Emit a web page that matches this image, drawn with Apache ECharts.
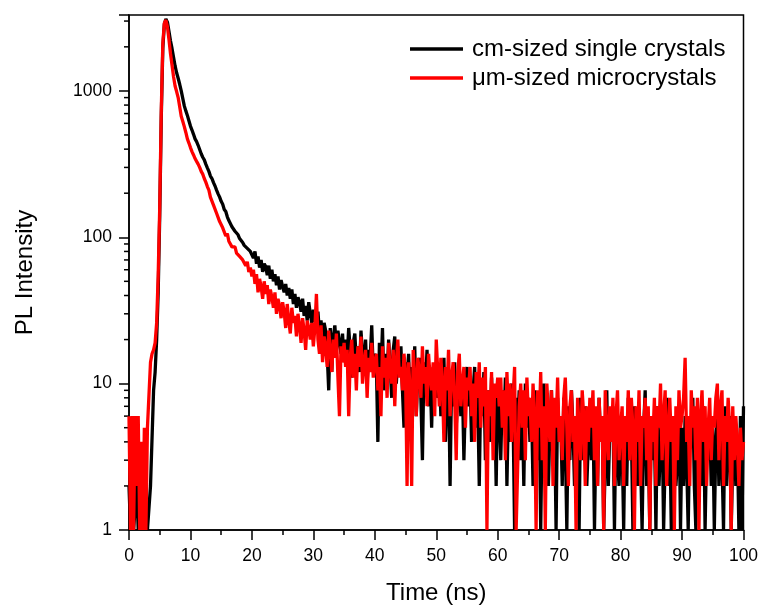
<!DOCTYPE html>
<html><head><meta charset="utf-8">
<script src="https://cdn.jsdelivr.net/npm/echarts@6/dist/echarts.min.js"></script>
<style>html,body{margin:0;padding:0;background:#fff}#c{width:765px;height:608px}</style>
</head><body><div id="c"></div>
<script>
const seriesNames = ['cm-sized single crystals', 'μm-sized microcrystals'];
const timeStep = 0.25; // ns between samples, first sample at 0 ns
const cmCrystals = [
  2,1,2,1,1,2,1,1,2,1,1,2,1,
  1,2,2,9,12,20,42,140,650,1950,2850,3100,
  2950,2550,2200,1950,1700,1480,1330,1220,1110,1000,890,790,730,680,625,575,540,505,470,450,
  425,398,372,352,338,316,298,282,262,252,236,224,210,198,188,176,168,155,150,138,
  130,126,118,117,110,112,104,98,96,92,88,90,84,86,80,78,
  72,80,66,74,62,70,58,66,63,55,64,52,60,50,56,47,54,44,51,46,
  42,48,40,45,38,44,35,41,33,39,36,31,38,29,34,27,36,30,26,32,
  28,24,31,22,27,20,26,23,16,9,24,12,21,25,17,23,19,16,22,14,
  20,15,24,17,11,19,22,14,18,12,23,16,13,20,10,17,15,25,12,16,
  14,4,19,12,24,9,16,11,20,13,8,17,21,10,15,12,18,9,5,14,
  11,16,7,13,9,18,6,12,15,8,3,14,10,17,7,12,5,13,9,11,
  8,13,6,10,15,4,9,12,2,11,7,14,5,9,12,6,10,3,8,13,
  7,11,4,9,13,5,8,2,10,6,12,3,7,9,4,11,5,8,2,10,
  6,3,9,5,11,2,7,4,10,6,1,8,5,9,3,7,2,10,5,8,
  4,7,2,9,5,3,8,1,6,10,4,7,2,5,9,3,6,1,8,4,
  6,2,8,4,1,7,3,9,5,2,6,4,1,8,3,5,7,2,4,6,
  3,7,1,5,2,8,4,6,1,3,9,2,5,4,7,1,6,3,2,5,
  4,1,6,2,8,3,5,1,7,4,2,6,3,1,5,9,2,4,1,6,
  3,5,1,7,2,4,6,1,3,8,2,5,1,4,6,2,3,7,1,5,
  2,6,3,1,5,4,8,2,1,6,3,5,2,7,1,4,3,6,2,5,
  1,4,6,2,5,3,1,7,2,4,6,1,3,5,2,4,1,6,1,7
];
const umCrystals = [
  6,1,6,1,6,2,6,1,4,1,5,1,5,
  5,14,16,17,19,26,55,160,720,2100,2900,3050,
  2750,2250,1800,1500,1250,1080,990,900,780,670,620,570,520,470,440,410,385,365,345,330,
  316,300,282,270,252,238,222,210,188,184,166,162,146,145,128,130,116,117,102,106,
  94,97,86,88,86,78,80,74,76,70,72,64,68,58,62,54,
  60,48,56,42,52,46,38,50,41,47,35,44,39,33,42,30,38,34,28,36,
  31,24,35,27,22,33,26,29,21,30,25,19,28,23,17,27,24,20,26,18,
  24,41,20,16,25,14,21,18,13,23,17,12,20,15,22,11,6,18,14,19,
  13,17,6,15,20,11,16,9,18,13,21,10,14,17,8,15,12,19,11,14,
  16,9,13,6,18,11,15,8,19,12,10,17,7,14,20,11,13,9,16,12,
  2,14,9,2,17,11,6,15,12,8,18,10,13,7,16,11,9,14,6,20,
  12,7,15,10,4,13,9,17,6,11,14,8,3,12,16,7,10,13,5,11,
  9,13,6,10,4,12,8,14,5,11,7,13,1,9,6,12,3,10,8,11,
  7,11,5,9,3,12,6,10,4,8,13,1,1,7,10,5,9,3,11,6,
  8,4,10,6,1,9,5,12,3,7,1,10,6,4,9,2,8,5,11,4,
  6,3,8,11,5,2,7,9,4,6,1,8,5,3,9,6,2,7,4,8,
  5,9,3,7,2,8,4,6,1,9,5,3,7,4,8,2,6,9,3,5,
  7,2,6,4,9,3,8,5,1,7,4,9,2,6,5,8,3,7,1,6,
  4,8,2,7,5,10,3,6,9,2,5,8,4,6,1,7,3,9,5,6,
  8,15,4,6,2,9,5,7,3,8,1,6,9,4,7,2,5,8,3,6,
  5,8,10,3,7,9,2,6,4,8,5,1,7,3,6,4,2,5,3,4
];
const xTickLabels = [0,10,20,30,40,50,60,70,80,90,100];
const yMajorTicks = [1,10,100,1000];
const yMinorTicks = [2,3,4,5,6,7,8,9,20,30,40,50,60,70,80,90,200,300,400,500,600,700,800,900,2000,3000];
const yMax = 3300;

const FONT = 'Arial, "Liberation Sans", sans-serif';
const toPairs = arr => arr.map((v, i) => [i * timeStep, v]);
const tickStyle = {color: '#000', width: 1.5};
const MAJOR_LEN = 10, MINOR_LEN = 5;

const chart = echarts.init(document.getElementById('c'), null, {renderer: 'canvas'});
chart.setOption({
  animation: false,
  backgroundColor: '#fff',
  grid: {left: 129, right: 21.5, top: 15, bottom: 78, outerBoundsMode: 'none', containLabel: false,
    show: true, borderColor: '#000', borderWidth: 1.5, backgroundColor: 'transparent'},
  legend: {
    orient: 'vertical', left: 410, top: 37, padding: 0, itemWidth: 53, itemHeight: 3.5, itemGap: 5,
    icon: 'rect',
    textStyle: {fontSize: 24, fontFamily: FONT, color: '#000', padding: [0, 0, 0, 4]},
    data: seriesNames
  },
  xAxis: {
    type: 'value', min: xTickLabels[0], max: xTickLabels[xTickLabels.length - 1], interval: 10,
    name: 'Time (ns)', nameLocation: 'middle', nameGap: 51,
    nameTextStyle: {fontSize: 24, fontFamily: FONT, color: '#000'},
    axisLine: {show: true, onZero: false, lineStyle: tickStyle},
    axisTick: {show: true, length: MAJOR_LEN, lineStyle: tickStyle},
    minorTick: {show: true, splitNumber: 2, length: MINOR_LEN, lineStyle: tickStyle},
    axisLabel: {fontSize: 17.5, fontFamily: FONT, color: '#000', margin: 17},
    splitLine: {show: false}, minorSplitLine: {show: false}
  },
  yAxis: {
    type: 'log', logBase: 10, min: yMajorTicks[0], max: yMax,
    name: 'PL Intensity', nameLocation: 'middle', nameGap: 92,
    nameTextStyle: {fontSize: 24, fontFamily: FONT, color: '#000'},
    axisLine: {show: true, onZero: false, lineStyle: tickStyle},
    axisTick: {show: true, length: MAJOR_LEN, lineStyle: tickStyle},
    axisLabel: {fontSize: 17.5, fontFamily: FONT, color: '#000', margin: 17,
      formatter: v => (yMajorTicks.indexOf(Math.round(v)) >= 0 ? String(Math.round(v)) : '')},
    splitLine: {show: false}
  },
  series: [{
    name: seriesNames[0], type: 'line', data: toPairs(cmCrystals),
    symbol: 'none', showSymbol: false, color: '#000',
    lineStyle: {color: '#000', width: 3.3}, z: 2
  }, {
    name: seriesNames[1], type: 'line', data: toPairs(umCrystals),
    symbol: 'none', showSymbol: false, color: '#ff0000',
    lineStyle: {color: '#ff0000', width: 3.3}, z: 3
  }]
});

// y-axis minor tick marks (2..9 within each decade), positioned through the log scale
const x0 = chart.convertToPixel({xAxisIndex: 0}, xTickLabels[0]);
chart.setOption({
  graphic: yMinorTicks.map(v => {
    const y = chart.convertToPixel({yAxisIndex: 0}, v);
    return {type: 'line', shape: {x1: x0 - MINOR_LEN, y1: y, x2: x0, y2: y},
      style: {stroke: '#000', lineWidth: 1.5}};
  })
});
</script>
</body></html>
